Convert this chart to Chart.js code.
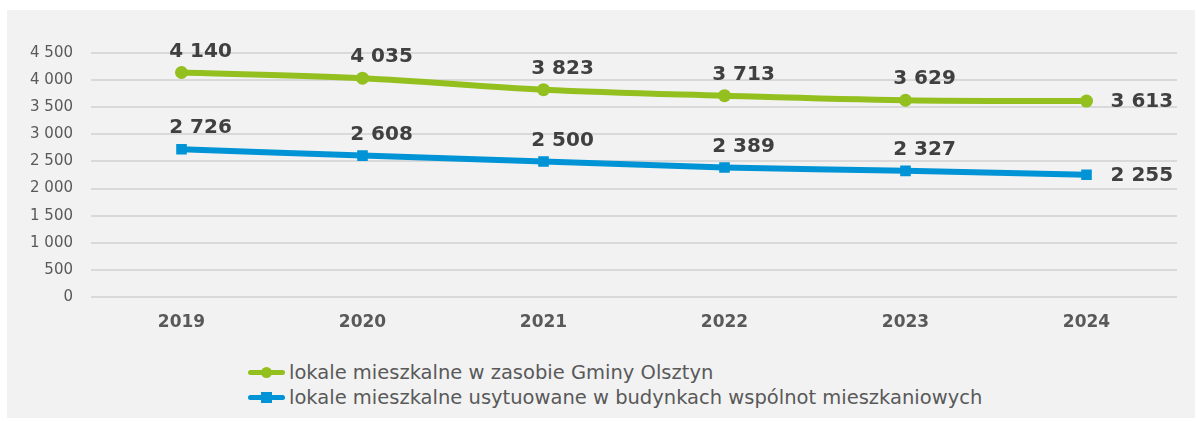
<!DOCTYPE html>
<html>
<head>
<meta charset="utf-8">
<script src="https://cdn.jsdelivr.net/npm/chart.js@4.4.1/dist/chart.umd.min.js"></script>
<style>
  body { margin: 0; background: #fff; }
  #panel { position: absolute; left: 7px; top: 10px; width: 1188px; height: 408px; background: #f2f2f2; }
  #wrap { position: absolute; left: 0; top: 0; width: 1188px; height: 340px; }
  #legend { position: absolute; left: 241px; top: 350px; font-family: "DejaVu Sans", sans-serif; font-size: 19.5px; color: #595959; }
  .row { height: 25px; display: flex; align-items: center; }
  .sample { position: relative; width: 37px; height: 25px; margin-right: 4px; flex: none; }
  .sample .ln { position: absolute; left: 0; right: 0; top: 10px; height: 5px; border-radius: 3px; }
  .sample .mk { position: absolute; }
</style>
</head>
<body>
<div id="panel">
  <div id="wrap"><canvas id="myChart"></canvas></div>
  <div id="legend"></div>
</div>
<script>
var years = ['2019', '2020', '2021', '2022', '2023', '2024'];
var gminaData = [4140, 4035, 3823, 3713, 3629, 3613];
var wspolnotyData = [2726, 2608, 2500, 2389, 2327, 2255];
var seriesNames = ['lokale mieszkalne w zasobie Gminy Olsztyn', 'lokale mieszkalne usytuowane w budynkach wspólnot mieszkaniowych'];
var yTicks = [0, 500, 1000, 1500, 2000, 2500, 3000, 3500, 4000, 4500];

var green = '#93c01f';
var blue = '#0094d6';

function fmt(v) {
  return String(v).replace(/\B(?=(\d{3})+(?!\d))/g, ' ');
}

// value labels: above-right of each point, the last one to the right
var valueLabels = {
  id: 'valueLabels',
  afterDatasetsDraw: function(chart) {
    var ctx = chart.ctx;
    ctx.save();
    ctx.font = 'bold 20px "DejaVu Sans", sans-serif';
    ctx.fillStyle = '#404040';
    ctx.textAlign = 'center';
    ctx.textBaseline = 'middle';
    chart.data.datasets.forEach(function(ds, i) {
      var meta = chart.getDatasetMeta(i);
      meta.data.forEach(function(pt, j) {
        var txt = fmt(ds.data[j]);
        if (j === ds.data.length - 1) {
          ctx.textAlign = 'left';
          ctx.fillText(txt, pt.x + 24, pt.y + 1);
          ctx.textAlign = 'center';
        } else {
          ctx.fillText(txt, pt.x + 19, pt.y - 21);
        }
      });
    });
    ctx.restore();
  }
};

var ctx = document.getElementById('myChart').getContext('2d');
var myChart = new Chart(ctx, {
  type: 'line',
  data: {
    labels: years,
    datasets: [{
        data: gminaData,
        label: seriesNames[0],
        borderColor: green,
        backgroundColor: green,
        borderWidth: 6,
        pointStyle: 'circle',
        pointRadius: 6.5,
        pointBorderWidth: 0,
        tension: 0.35,
        fill: false
      }, {
        data: wspolnotyData,
        label: seriesNames[1],
        borderColor: blue,
        backgroundColor: blue,
        borderWidth: 6,
        pointStyle: 'rect',
        pointRadius: 7.5,
        pointBorderWidth: 0,
        tension: 0.35,
        fill: false
      }
    ]
  },
  options: {
    responsive: true,
    maintainAspectRatio: false,
    animation: false,
    layout: { padding: { top: 43, right: 18, bottom: 13, left: 0 } },
    plugins: {
      legend: { display: false },
      tooltip: { enabled: false }
    },
    scales: {
      x: {
        offset: true,
        grid: { display: false, drawTicks: false },
        border: { display: false },
        ticks: { padding: 15, color: '#595959', font: { family: '"DejaVu Sans", sans-serif', size: 17, weight: 'bold' } },
        afterFit: function(s) { s.height = 40; }
      },
      y: {
        min: 0,
        max: 4500,
        afterBuildTicks: function(s) { s.ticks = yTicks.map(function(v) { return { value: v }; }); },
        grid: { color: '#d9d9d9', lineWidth: 2, drawTicks: false },
        border: { display: false },
        ticks: {
          padding: 18,
          color: '#595959',
          font: { family: '"DejaVu Sans", sans-serif', size: 15 },
          callback: function(v) { return fmt(v); }
        },
        afterFit: function(s) { s.width = 84; }
      }
    }
  },
  plugins: [valueLabels]
});

// legend in two rows, left aligned
var legend = document.getElementById('legend');
myChart.data.datasets.forEach(function(ds) {
  var row = document.createElement('div');
  row.className = 'row';
  var sample = document.createElement('div');
  sample.className = 'sample';
  var ln = document.createElement('div');
  ln.className = 'ln';
  ln.style.background = ds.borderColor;
  var mk = document.createElement('div');
  mk.className = 'mk';
  mk.style.background = ds.borderColor;
  if (ds.pointStyle === 'circle') {
    mk.style.cssText += 'left:13px;top:7px;width:11px;height:11px;border-radius:50%;';
  } else {
    mk.style.cssText += 'left:13px;top:7px;width:11px;height:11px;';
  }
  sample.appendChild(ln);
  sample.appendChild(mk);
  var txt = document.createElement('span');
  txt.textContent = ds.label;
  row.appendChild(sample);
  row.appendChild(txt);
  legend.appendChild(row);
});
</script>
</body>
</html>
